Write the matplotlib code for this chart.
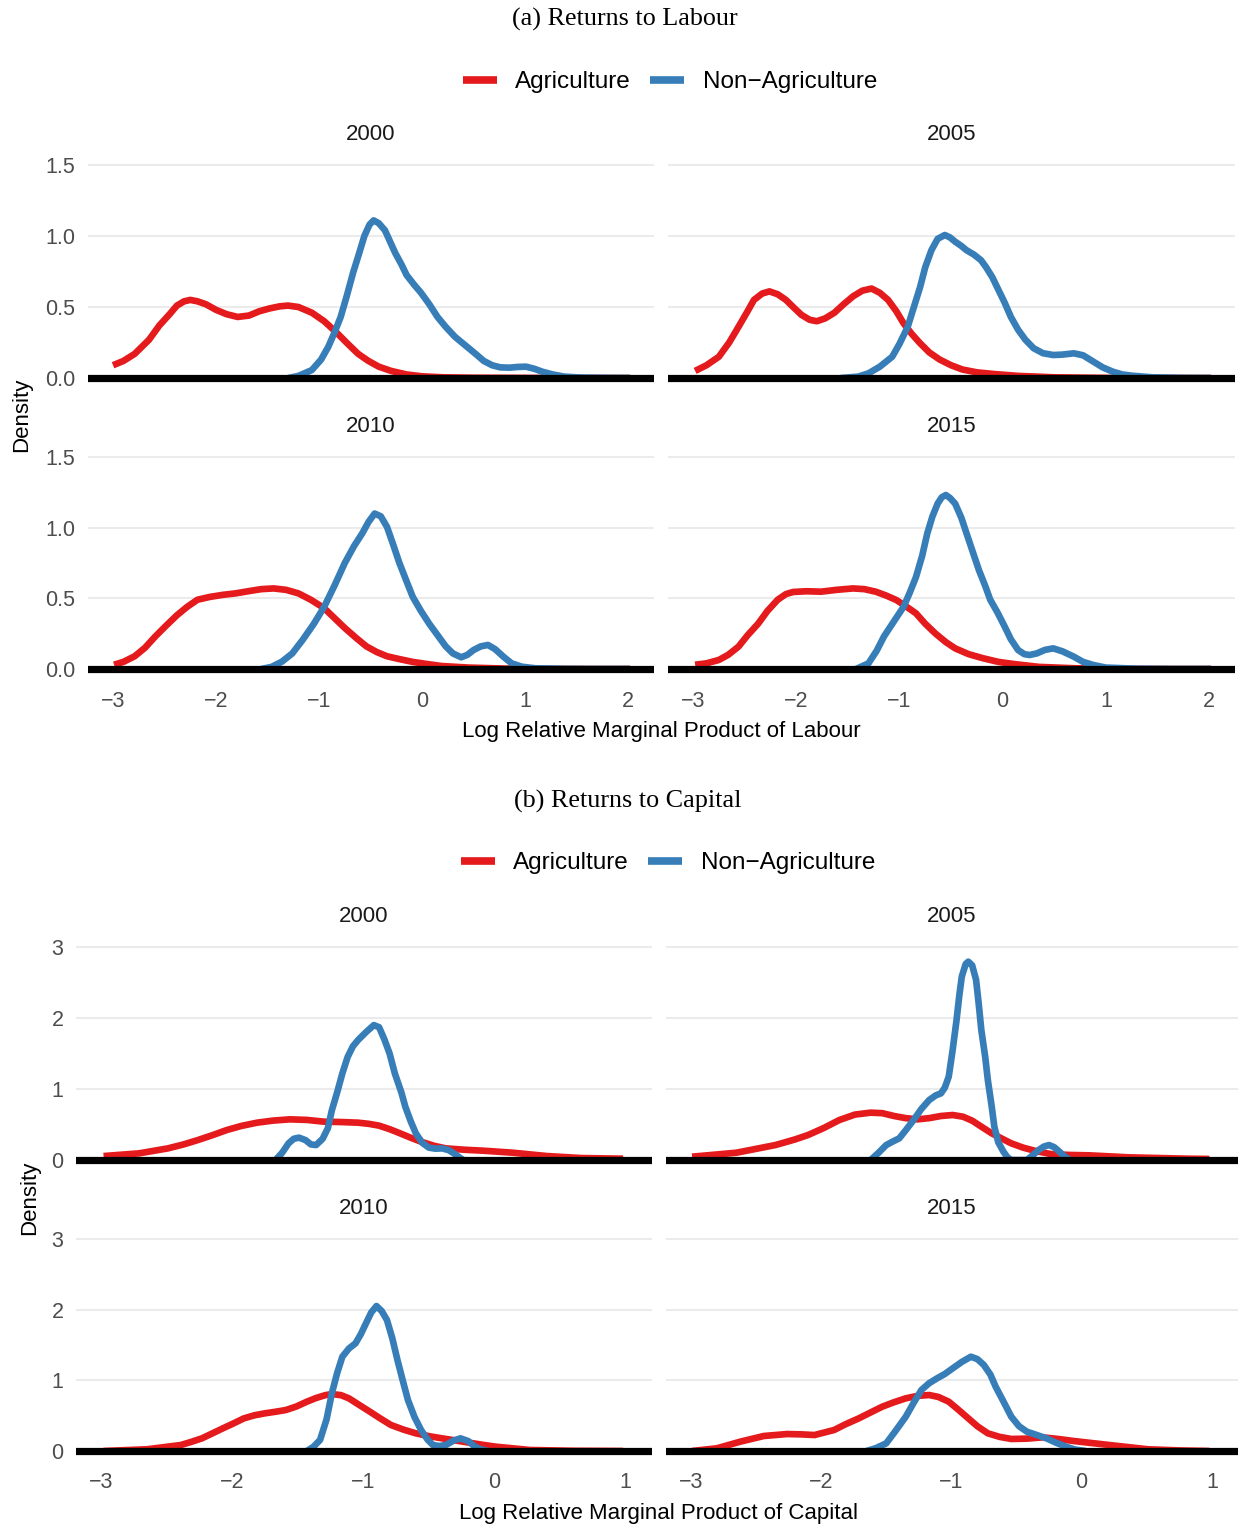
import matplotlib.pyplot as plt
from matplotlib.lines import Line2D


# ============================================================
# DATA
# ============================================================

YEARS = ["2000", "2005", "2010", "2015"]
GROUPS = ["Agriculture", "Non\u2212Agriculture"]

# --- (a) returns to labour ---
lab2000_agri_x = [-3.00, -2.90, -2.79, -2.65, -2.55, -2.45, -2.38, -2.31, -2.25, -2.18, -2.10, -2.00,
                  -1.90, -1.79, -1.68, -1.58, -1.48, -1.38, -1.30, -1.20, -1.07, -0.95, -0.83, -0.72,
                  -0.62, -0.52, -0.42, -0.30, -0.15, 0.0, 0.2, 0.5, 1.0, 1.5, 2.02]
lab2000_agri_y = [0.09, 0.12, 0.17, 0.27, 0.37, 0.45, 0.51, 0.54, 0.55, 0.54, 0.52, 0.48,
                  0.45, 0.43, 0.44, 0.47, 0.49, 0.505, 0.51, 0.50, 0.46, 0.40, 0.32, 0.24,
                  0.17, 0.12, 0.08, 0.05, 0.025, 0.012, 0.005, 0.002, 0.001, 0, 0]
lab2000_non_x = [-1.30, -1.20, -1.07, -0.98, -0.91, -0.85, -0.79, -0.73, -0.67, -0.61, -0.56, -0.51,
                 -0.47, -0.42, -0.36, -0.31, -0.26, -0.20, -0.15, -0.08, -0.01, 0.07, 0.15, 0.23,
                 0.32, 0.42, 0.52, 0.60, 0.68, 0.76, 0.85, 0.93, 1.01, 1.09, 1.17, 1.27, 1.38,
                 1.55, 1.80, 2.02]
lab2000_non_y = [0.0, 0.015, 0.056, 0.13, 0.22, 0.32, 0.43, 0.58, 0.74, 0.88, 1.0, 1.08,
                 1.11, 1.09, 1.04, 0.96, 0.88, 0.80, 0.725, 0.66, 0.60, 0.52, 0.43, 0.36,
                 0.29, 0.23, 0.17, 0.12, 0.09, 0.075, 0.073, 0.078, 0.08, 0.065, 0.044, 0.025, 0.01,
                 0.003, 0.001, 0]

lab2005_agri_x = [-2.98, -2.87, -2.75, -2.65, -2.56, -2.48, -2.41, -2.33, -2.26, -2.18, -2.10, -2.03,
                  -1.95, -1.87, -1.80, -1.72, -1.63, -1.54, -1.45, -1.36, -1.27, -1.19, -1.11, -1.03,
                  -0.96, -0.88, -0.80, -0.71, -0.61, -0.50, -0.39, -0.25, -0.08, 0.15, 0.5, 1.0,
                  1.5, 2.02]
lab2005_agri_y = [0.05, 0.09, 0.15, 0.25, 0.36, 0.46, 0.55, 0.595, 0.61, 0.59, 0.55, 0.50,
                  0.445, 0.41, 0.40, 0.42, 0.46, 0.52, 0.575, 0.615, 0.63, 0.60, 0.55, 0.47,
                  0.385, 0.31, 0.245, 0.18, 0.13, 0.09, 0.06, 0.04, 0.028, 0.015, 0.005, 0.001,
                  0, 0]
lab2005_non_x = [-1.57, -1.40, -1.30, -1.19, -1.07, -1.00, -0.92, -0.86, -0.80, -0.75, -0.69, -0.63,
                 -0.56, -0.51, -0.46, -0.40, -0.35, -0.28, -0.21, -0.16, -0.10, -0.04, 0.02, 0.08,
                 0.15, 0.22, 0.30, 0.39, 0.49, 0.58, 0.69, 0.78, 0.88, 0.97, 1.07, 1.16, 1.26,
                 1.45, 1.75, 2.02]
lab2005_non_y = [0.0, 0.01, 0.033, 0.08, 0.15, 0.24, 0.36, 0.50, 0.64, 0.78, 0.90, 0.98,
                 1.007, 0.99, 0.96, 0.93, 0.90, 0.87, 0.83, 0.78, 0.71, 0.62, 0.53, 0.43,
                 0.34, 0.27, 0.21, 0.175, 0.162, 0.165, 0.174, 0.16, 0.115, 0.075, 0.044, 0.025, 0.016,
                 0.005, 0.001, 0]

lab2010_agri_x = [-2.99, -2.90, -2.79, -2.69, -2.59, -2.48, -2.38, -2.28, -2.18, -2.06, -1.93, -1.81,
                  -1.69, -1.56, -1.44, -1.32, -1.20, -1.08, -0.95, -0.85, -0.75, -0.64, -0.54, -0.44,
                  -0.34, -0.22, -0.09, 0.05, 0.19, 0.45, 0.8, 1.2, 1.6, 2.02]
lab2010_agri_y = [0.03, 0.05, 0.09, 0.15, 0.23, 0.31, 0.38, 0.44, 0.49, 0.51, 0.525, 0.535,
                  0.55, 0.565, 0.57, 0.56, 0.535, 0.49, 0.43, 0.36, 0.29, 0.22, 0.16, 0.12,
                  0.09, 0.07, 0.05, 0.035, 0.021, 0.01, 0.003, 0.001, 0, 0]
lab2010_non_x = [-1.56, -1.46, -1.36, -1.26, -1.16, -1.05, -0.95, -0.85, -0.75, -0.66, -0.58, -0.52,
                 -0.46, -0.40, -0.34, -0.28, -0.22, -0.15, -0.09, -0.01, 0.07, 0.15, 0.23, 0.30,
                 0.38, 0.44, 0.50, 0.57, 0.64, 0.71, 0.79, 0.87, 0.97, 1.10, 1.40, 1.70, 2.02]
lab2010_non_y = [0.0, 0.015, 0.052, 0.11, 0.205, 0.32, 0.44, 0.59, 0.75, 0.87, 0.96, 1.04,
                 1.10, 1.08, 1.005, 0.88, 0.75, 0.62, 0.51, 0.41, 0.32, 0.24, 0.16, 0.11,
                 0.083, 0.10, 0.134, 0.16, 0.17, 0.14, 0.087, 0.04, 0.016, 0.005, 0.001, 0, 0]

lab2015_agri_x = [-2.98, -2.87, -2.75, -2.66, -2.56, -2.47, -2.37, -2.28, -2.18, -2.10, -2.03, -1.90,
                  -1.76, -1.61, -1.45, -1.34, -1.23, -1.13, -1.03, -0.94, -0.84, -0.75, -0.65, -0.55,
                  -0.46, -0.33, -0.19, -0.04, 0.11, 0.35, 0.7, 1.1, 1.6, 2.02]
lab2015_agri_y = [0.03, 0.04, 0.064, 0.10, 0.158, 0.24, 0.32, 0.41, 0.49, 0.53, 0.545, 0.55,
                  0.547, 0.56, 0.57, 0.565, 0.547, 0.52, 0.488, 0.445, 0.394, 0.32, 0.25, 0.19,
                  0.146, 0.105, 0.076, 0.05, 0.035, 0.015, 0.005, 0.001, 0, 0]
lab2015_non_x = [-1.42, -1.30, -1.22, -1.15, -1.06, -0.96, -0.90, -0.84, -0.78, -0.73, -0.68, -0.63,
                 -0.59, -0.55, -0.51, -0.46, -0.40, -0.35, -0.29, -0.23, -0.17, -0.12, -0.05, 0.02,
                 0.08, 0.15, 0.21, 0.26, 0.33, 0.41, 0.49, 0.58, 0.69, 0.78, 0.88, 1.0, 1.3,
                 1.7, 2.02]
lab2015_non_y = [0.0, 0.04, 0.13, 0.23, 0.33, 0.44, 0.54, 0.65, 0.80, 0.96, 1.08, 1.17,
                 1.215, 1.231, 1.21, 1.17, 1.07, 0.96, 0.83, 0.70, 0.59, 0.49, 0.40, 0.30,
                 0.21, 0.134, 0.105, 0.099, 0.11, 0.135, 0.146, 0.125, 0.087, 0.05, 0.028, 0.01, 0.002,
                 0, 0]

# --- (b) returns to capital ---
cap2000_agri_x = [-2.98, -2.71, -2.49, -2.37, -2.26, -2.15, -2.04, -1.93, -1.81, -1.69, -1.56, -1.43,
                  -1.30, -1.17, -1.04, -0.96, -0.88, -0.80, -0.72, -0.64, -0.56, -0.46, -0.37, -0.23,
                  -0.08, 0.14, 0.40, 0.66, 0.98]
cap2000_agri_y = [0.056, 0.094, 0.164, 0.22, 0.282, 0.35, 0.423, 0.48, 0.526, 0.555, 0.573, 0.565,
                  0.54, 0.535, 0.526, 0.51, 0.484, 0.435, 0.376, 0.315, 0.258, 0.2, 0.164, 0.145,
                  0.131, 0.103, 0.056, 0.028, 0.019]
cap2000_non_x = [-1.67, -1.62, -1.57, -1.53, -1.49, -1.44, -1.40, -1.36, -1.31, -1.27, -1.24, -1.20,
                 -1.16, -1.12, -1.08, -1.04, -0.98, -0.92, -0.88, -0.84, -0.80, -0.76, -0.71, -0.68,
                 -0.64, -0.60, -0.55, -0.50, -0.45, -0.40, -0.35, -0.31, -0.27, -0.24]
cap2000_non_y = [0.0, 0.1, 0.235, 0.3, 0.315, 0.28, 0.22, 0.211, 0.3, 0.45, 0.7, 0.95,
                 1.22, 1.45, 1.6, 1.69, 1.8, 1.9, 1.87, 1.7, 1.5, 1.22, 0.95, 0.75,
                 0.55, 0.376, 0.24, 0.174, 0.16, 0.164, 0.14, 0.094, 0.04, 0.0]

cap2005_agri_x = [-2.99, -2.65, -2.35, -2.20, -2.10, -1.98, -1.86, -1.74, -1.62, -1.53, -1.44, -1.35,
                  -1.26, -1.17, -1.08, -0.99, -0.91, -0.84, -0.77, -0.69, -0.61, -0.54, -0.45, -0.36,
                  -0.24, -0.10, 0.06, 0.36, 0.81, 0.98]
cap2005_agri_y = [0.047, 0.103, 0.211, 0.29, 0.352, 0.45, 0.563, 0.64, 0.667, 0.66, 0.62, 0.59,
                  0.573, 0.59, 0.62, 0.634, 0.61, 0.554, 0.47, 0.376, 0.3, 0.235, 0.175, 0.131,
                  0.085, 0.072, 0.066, 0.038, 0.019, 0.015]
cap2005_non_x = [-1.62, -1.56, -1.50, -1.45, -1.40, -1.35, -1.29, -1.23, -1.17, -1.12, -1.08, -1.05,
                 -1.02, -0.99, -0.96, -0.94, -0.92, -0.89, -0.87, -0.84, -0.81, -0.79, -0.77, -0.74,
                 -0.72, -0.69, -0.67, -0.64, -0.60, -0.57, -0.54, -0.42, -0.38, -0.33, -0.29, -0.25,
                 -0.21, -0.17, -0.13, -0.09]
cap2005_non_y = [0.0, 0.1, 0.211, 0.26, 0.305, 0.42, 0.563, 0.72, 0.845, 0.91, 0.939, 1.02,
                 1.174, 1.55, 1.972, 2.3, 2.582, 2.76, 2.793, 2.74, 2.535, 2.2, 1.831, 1.45,
                 1.127, 0.75, 0.469, 0.25, 0.117, 0.04, 0.0, 0.0, 0.06, 0.141, 0.19, 0.211,
                 0.18, 0.117, 0.05, 0.0]

cap2010_agri_x = [-2.98, -2.65, -2.39, -2.31, -2.23, -2.15, -2.07, -1.99, -1.91, -1.83, -1.75, -1.67,
                  -1.59, -1.51, -1.43, -1.36, -1.29, -1.24, -1.17, -1.11, -1.03, -0.95, -0.87, -0.79,
                  -0.69, -0.60, -0.50, -0.40, -0.24, -0.10, 0.01, 0.27, 0.6, 0.98]
cap2010_agri_y = [0.0, 0.024, 0.085, 0.13, 0.179, 0.25, 0.321, 0.39, 0.462, 0.505, 0.533, 0.555,
                  0.58, 0.63, 0.698, 0.75, 0.79, 0.806, 0.79, 0.745, 0.65, 0.556, 0.46, 0.368,
                  0.3, 0.25, 0.21, 0.179, 0.132, 0.09, 0.061, 0.014, 0.003, 0.0]
cap2010_non_x = [-1.43, -1.38, -1.33, -1.28, -1.24, -1.20, -1.16, -1.11, -1.06, -1.02, -0.98, -0.94,
                 -0.90, -0.86, -0.82, -0.78, -0.74, -0.70, -0.66, -0.61, -0.56, -0.51, -0.47, -0.42,
                 -0.37, -0.31, -0.26, -0.20, -0.15, -0.10, -0.05]
cap2010_non_y = [0.0, 0.06, 0.156, 0.45, 0.816, 1.1, 1.334, 1.45, 1.523, 1.65, 1.806, 1.96,
                 2.051, 1.98, 1.853, 1.6, 1.287, 1.0, 0.721, 0.48, 0.297, 0.16, 0.085, 0.07,
                 0.085, 0.15, 0.179, 0.14, 0.061, 0.02, 0.0]

cap2015_agri_x = [-2.99, -2.80, -2.62, -2.44, -2.26, -2.15, -2.05, -1.90, -1.81, -1.71, -1.62, -1.53,
                  -1.44, -1.35, -1.26, -1.17, -1.10, -1.02, -0.95, -0.87, -0.80, -0.72, -0.63, -0.54,
                  -0.42, -0.30, -0.18, -0.06, 0.21, 0.51, 0.75, 0.98]
cap2015_agri_y = [0.0, 0.038, 0.132, 0.212, 0.24, 0.235, 0.226, 0.297, 0.38, 0.462, 0.545, 0.627,
                  0.69, 0.745, 0.78, 0.792, 0.765, 0.698, 0.59, 0.462, 0.35, 0.25, 0.2, 0.17,
                  0.175, 0.193, 0.17, 0.141, 0.085, 0.024, 0.008, 0.0]
cap2015_non_x = [-1.65, -1.58, -1.50, -1.43, -1.35, -1.29, -1.23, -1.17, -1.11, -1.05, -0.99, -0.92,
                 -0.85, -0.80, -0.75, -0.70, -0.66, -0.60, -0.54, -0.48, -0.42, -0.35, -0.27, -0.20,
                 -0.12, -0.05, 0.03]
cap2015_non_y = [0.0, 0.04, 0.108, 0.28, 0.485, 0.68, 0.863, 0.96, 1.028, 1.09, 1.169, 1.26,
                 1.334, 1.3, 1.216, 1.08, 0.91, 0.7, 0.485, 0.35, 0.273, 0.23, 0.179, 0.12,
                 0.061, 0.02, 0.0]

LAB_TICKS_X = [-3, -2, -1, 0, 1, 2]
LAB_TICKS_Y = [0.0, 0.5, 1.0, 1.5]
CAP_TICKS_X = [-3, -2, -1, 0, 1]
CAP_TICKS_Y = [0, 1, 2, 3]


# ============================================================
# STYLE
# ============================================================

W, H = 1238, 1528
RED = "#E41A1C"
BLUE = "#377EB8"
GRID = "#EBEBEB"
TICK_COL = "#4D4D4D"

plt.rcParams["font.family"] = ["Liberation Sans", "DejaVu Sans"]
plt.rcParams["axes.unicode_minus"] = True


def fx(px):
    return px / W


def fy(py):
    return 1 - py / H


def add_panel(fig, left, right, top, bottom):
    return fig.add_axes([fx(left), fy(bottom), (right - left) / W, (bottom - top) / H])


def draw_facet(ax, agri, non, xlim, ylim, xticks, yticks, show_x, show_y, yfmt):
    ax.plot(agri[0], agri[1], color=RED, lw=4.8, solid_capstyle="butt",
            solid_joinstyle="round", zorder=3)
    ax.plot(non[0], non[1], color=BLUE, lw=4.8, solid_capstyle="butt",
            solid_joinstyle="round", zorder=3)
    ax.axhline(0, color="black", lw=5.2, zorder=4)

    ax.set_xlim(*xlim)
    ax.set_ylim(*ylim)
    ax.set_xticks(xticks)
    ax.set_yticks(yticks)
    ax.yaxis.grid(True, color=GRID, lw=1.5, zorder=0)
    ax.xaxis.grid(False)
    ax.set_axisbelow(True)
    for s in ax.spines.values():
        s.set_visible(False)
    ax.tick_params(length=0, labelsize=15.5, labelcolor=TICK_COL)
    ax.tick_params(axis="x", pad=7)
    ax.tick_params(axis="y", pad=9)
    if show_x:
        ax.set_xticklabels([f"{t:d}".replace("-", "\u2212") for t in xticks])
    else:
        ax.set_xticklabels([])
    if show_y:
        ax.set_yticklabels([yfmt.format(t) for t in yticks])
    else:
        ax.set_yticklabels([])


def add_legend(fig, cx, cy):
    handles = [
        Line2D([], [], color=RED, lw=5.5, solid_capstyle="butt"),
        Line2D([], [], color=BLUE, lw=5.5, solid_capstyle="butt"),
    ]
    fig.legend(handles, GROUPS, loc="center", bbox_to_anchor=(fx(cx), fy(cy)),
               ncol=2, frameon=False, fontsize=17.5, handlelength=1.4,
               handletextpad=0.75, columnspacing=0.8)


fig = plt.figure(figsize=(W / 100, H / 100), dpi=100)


# ============================================================
# (a) RETURNS TO LABOUR
# ============================================================

fig.text(fx(625), fy(19), "(a) Returns to Labour", ha="center", va="center",
         fontsize=18.8, family="Liberation Serif")
add_legend(fig, 670, 82)

lab_curves = [
    ((lab2000_agri_x, lab2000_agri_y), (lab2000_non_x, lab2000_non_y)),
    ((lab2005_agri_x, lab2005_agri_y), (lab2005_non_x, lab2005_non_y)),
    ((lab2010_agri_x, lab2010_agri_y), (lab2010_non_x, lab2010_non_y)),
    ((lab2015_agri_x, lab2015_agri_y), (lab2015_non_x, lab2015_non_y)),
]
lab_cols = [(88, 654), (668, 1235)]
lab_rows = [(145.4, 390.1, 134), (437.5, 681, 426)]

for i, year in enumerate(YEARS):
    r, c = divmod(i, 2)
    left, right = lab_cols[c]
    top, bottom, strip_y = lab_rows[r]
    ax = add_panel(fig, left, right, top, bottom)
    draw_facet(ax, lab_curves[i][0], lab_curves[i][1], (-3.243, 2.252), (-0.085, 1.638),
               LAB_TICKS_X, LAB_TICKS_Y, r == 1, c == 0, "{:.1f}")
    fig.text(fx((left + right) / 2), fy(strip_y), year, ha="center", va="center",
             fontsize=16, color="#1A1A1A")

fig.text(fx(661), fy(731), "Log Relative Marginal Product of Labour", ha="center",
         va="center", fontsize=16)
fig.text(fx(22), fy(415), "Density", ha="center", va="center", rotation=90, fontsize=16)


# ============================================================
# (b) RETURNS TO CAPITAL
# ============================================================

fig.text(fx(628), fy(801), "(b) Returns to Capital", ha="center", va="center",
         fontsize=18.8, family="Liberation Serif")
add_legend(fig, 668, 863)

cap_curves = [
    ((cap2000_agri_x, cap2000_agri_y), (cap2000_non_x, cap2000_non_y)),
    ((cap2005_agri_x, cap2005_agri_y), (cap2005_non_x, cap2005_non_y)),
    ((cap2010_agri_x, cap2010_agri_y), (cap2010_non_x, cap2010_non_y)),
    ((cap2015_agri_x, cap2015_agri_y), (cap2015_non_x, cap2015_non_y)),
]
cap_cols = [(76, 652), (666, 1238)]
cap_rows = [(927.8, 1171.4, 917), (1219.9, 1462.3, 1208)]

for i, year in enumerate(YEARS):
    r, c = divmod(i, 2)
    left, right = cap_cols[c]
    top, bottom, strip_y = cap_rows[r]
    ax = add_panel(fig, left, right, top, bottom)
    draw_facet(ax, cap_curves[i][0], cap_curves[i][1], (-3.19, 1.2), (-0.16, 3.27),
               CAP_TICKS_X, CAP_TICKS_Y, r == 1, c == 0, "{:d}")
    fig.text(fx((left + right) / 2), fy(strip_y), year, ha="center", va="center",
             fontsize=16, color="#1A1A1A")

fig.text(fx(659), fy(1514), "Log Relative Marginal Product of Capital", ha="center",
         va="center", fontsize=16)
fig.text(fx(30), fy(1198), "Density", ha="center", va="center", rotation=90, fontsize=16)

fig.savefig("out.png", dpi=100)
